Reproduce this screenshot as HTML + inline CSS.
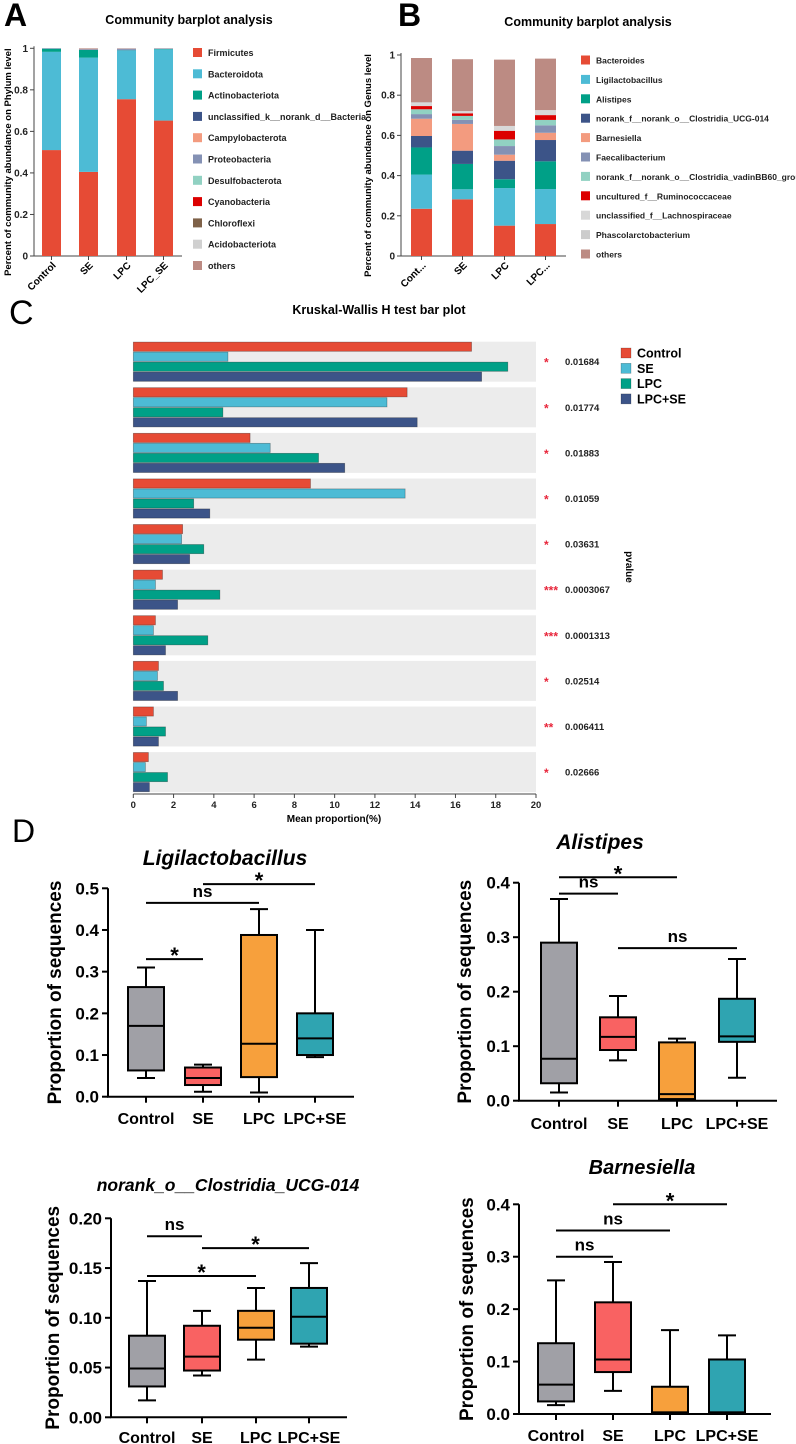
<!DOCTYPE html>
<html><head><meta charset="utf-8">
<style>
html,body{margin:0;padding:0;background:#fff;}
svg{display:block;font-family:"Liberation Sans",Arial,sans-serif;}
</style></head>
<body>
<svg id="fig" width="796" height="1444" viewBox="0 0 796 1444" xmlns="http://www.w3.org/2000/svg">
<text x="4" y="26" font-size="32" font-weight="bold">A</text>
<text x="398" y="26" font-size="32" font-weight="bold">B</text>
<text x="9" y="324" font-size="34">C</text>
<text x="12" y="842" font-size="32">D</text>
</svg>
<script>
// ---------- Panel A data ----------
const aGroups = ["Control","SE","LPC","LPC_SE"];
const aTaxa = ["Firmicutes","Bacteroidota","Actinobacteriota","unclassified_k__norank_d__Bacteria","Campylobacterota","Proteobacteria","Desulfobacterota","Cyanobacteria","Chloroflexi","Acidobacteriota","others"];
const aColors = ["#e64b35","#4dbbd5","#00a087","#3c5488","#f39b7f","#8491b4","#91d1c2","#dc0000","#7e6148","#d0d0d0","#bc8b83"];
const aFirmicutes = [0.51,0.405,0.755,0.652];
const aBacteroidota = [0.473,0.55,0.235,0.343];
const aActino = [0.015,0.037,0.001,0.002];
const aUnclass = [0.001,0.001,0.001,0.001];
const aCampylo = [0.0,0.001,0.0,0.0];
const aProteo = [0.001,0.003,0.006,0.001];
const aOthers = [0.0,0.003,0.002,0.001];
// ---------- Panel B data ----------
const bGroups = ["Cont...","SE","LPC","LPC..."];
const bTaxa = ["Bacteroides","Ligilactobacillus","Alistipes","norank_f__norank_o__Clostridia_UCG-014","Barnesiella","Faecalibacterium","norank_f__norank_o__Clostridia_vadinBB60_group","uncultured_f__Ruminococcaceae","unclassified_f__Lachnospiraceae","Phascolarctobacterium","others"];
const bColors = ["#e64b35","#4dbbd5","#00a087","#3c5488","#f39b7f","#8491b4","#91d1c2","#dc0000","#d8d8d8","#cccccc","#bc8b83"];
const bBacteroides = [0.235,0.282,0.151,0.159];
const bLigi = [0.17,0.05,0.187,0.174];
const bAlistipes = [0.135,0.126,0.044,0.138];
const bUCG014 = [0.057,0.066,0.092,0.106];
const bBarnes = [0.086,0.133,0.03,0.036];
const bFaecali = [0.023,0.02,0.043,0.037];
const bVadin = [0.024,0.02,0.033,0.027];
const bRumino = [0.016,0.013,0.043,0.024];
const bLachno = [0.014,0.011,0.024,0.025];
const bPhasc = [0.005,0.0,0.0,0.0];
const bOthers = [0.22,0.258,0.33,0.256];
// ---------- Panel C data ----------
const cGroups = ["Control","SE","LPC","LPC+SE"];
const cColors = ["#e64b35","#4dbbd5","#00a087","#3c5488"];
const cControl = [16.8,13.6,5.8,8.8,2.45,1.45,1.1,1.25,1.0,0.75];
const cSE = [4.7,12.6,6.8,13.5,2.4,1.1,1.0,1.2,0.65,0.6];
const cLPC = [18.6,4.45,9.2,3.0,3.5,4.3,3.7,1.5,1.6,1.7];
const cLPCSE = [17.3,14.1,10.5,3.8,2.8,2.2,1.6,2.2,1.25,0.8];
const cStars = ["*","*","*","*","*","***","***","*","**","*"];
const cPvalues = ["0.01684","0.01774","0.01883","0.01059","0.03631","0.0003067","0.0001313","0.02514","0.006411","0.02666"];
const cTicks = [0,2,4,6,8,10,12,14,16,18,20];
// ---------- Panel D data ([min,q1,median,q3,max] per group) ----------
const dGroups = ["Control","SE","LPC","LPC+SE"];
const dColors = ["#a0a0a6","#f96262","#f7a03c","#2fa4b1"];
const ligiStats = [[0.045,0.063,0.17,0.263,0.31],[0.012,0.028,0.045,0.07,0.077],[0.01,0.047,0.127,0.388,0.45],[0.095,0.10,0.14,0.20,0.40]];
const alisStats = [[0.015,0.032,0.077,0.29,0.37],[0.074,0.093,0.117,0.153,0.192],[0.003,0.003,0.012,0.107,0.114],[0.042,0.108,0.118,0.187,0.26]];
const ucgStats = [[0.017,0.031,0.049,0.082,0.137],[0.042,0.047,0.061,0.092,0.107],[0.058,0.078,0.09,0.107,0.13],[0.071,0.074,0.101,0.13,0.155]];
const barnStats = [[0.017,0.024,0.056,0.135,0.255],[0.044,0.08,0.104,0.213,0.29],[0.0,0.003,0.003,0.052,0.16],[0.0,0.003,0.003,0.104,0.15]];
const ligiTicks = [0,0.1,0.2,0.3,0.4,0.5];
const alisTicks = [0,0.1,0.2,0.3,0.4];
const ucgTicks = [0,0.05,0.10,0.15,0.20];
const barnTicks = [0,0.1,0.2,0.3,0.4];
// significance: [fromGroup, toGroup, level, label]
const ligiSig = [[0,1,0.33,"*"],[0,2,0.465,"ns"],[1,3,0.51,"*"]];
const alisSig = [[0,1,0.38,"ns"],[0,2,0.41,"*"],[1,3,0.28,"ns"]];
const ucgSig = [[0,1,0.182,"ns"],[1,3,0.17,"*"],[0,2,0.142,"*"]];
const barnSig = [[0,1,0.30,"ns"],[0,2,0.35,"ns"],[1,3,0.40,"*"]];

const NS = "http://www.w3.org/2000/svg";
const svg = document.getElementById("fig");
function mk(tag, attrs, parent){
  const e = document.createElementNS(NS, tag);
  for (const k in attrs) e.setAttribute(k, attrs[k]);
  (parent||svg).appendChild(e);
  return e;
}
function txt(s, attrs, parent){ const e = mk("text", attrs, parent); e.textContent = s; return e; }

// ===== Stacked bar panel =====
function stacked(o){
  const y = v => o.y0 - v*(o.y0-o.y1);
  const g = mk("g",{});
  
  
  const t = txt("Community barplot analysis",{x:o.titleX,y:o.titleY,"font-size":12.5,"font-weight":"bold","text-anchor":"middle"},g);
  
  
  const ax = mk("path",{d:`M${o.ax},${o.y1-2} V${o.y0} H${o.axEnd}`,stroke:"#444",fill:"none","stroke-width":1},g);
  
  
  [0,0.2,0.4,0.6,0.8,1].forEach(v=>{
    const tk = mk("line",{x1:o.ax-4,x2:o.ax,y1:y(v),y2:y(v),stroke:"#444"},g);
    
    
    const tl = txt(v===0||v===1?String(v):v.toFixed(1),{x:o.ax-6,y:y(v)+3.5,"font-size":10,"font-weight":"bold","text-anchor":"end",fill:"#222"},g);
    
    
  });
  const yt = txt(o.ytitle,{x:0,y:0,"font-size":9.5,"font-weight":"bold","text-anchor":"middle",transform:`translate(${o.ytX},${(o.y0+o.y1)/2+10}) rotate(-90)`},g);
  
  
  o.groups.forEach((gn,i)=>{
    let acc = 0;
    o.series.forEach((s,j)=>{
      const v = s[i];
      if (v>0){
        const r = mk("rect",{x:o.barX[i],width:o.barW,y:y(acc+v),height:(y(acc)-y(acc+v)),fill:o.colors[j]},g);
        
        
      }
      acc += v;
    });
    const cx = o.barX[i]+o.barW/2;
    const tk = mk("line",{x1:cx,x2:cx,y1:o.y0,y2:o.y0+4,stroke:"#444"},g);
    
    
    const xl = txt(gn,{x:cx+5,y:o.y0+10,"font-size":10,"font-weight":"bold","text-anchor":"end",transform:`rotate(-45 ${cx+5} ${o.y0+10})`},g);
    
    
  });
  o.taxa.forEach((n,j)=>{
    const yy = o.legY + j*o.legStep;
    const sq = mk("rect",{x:o.legX,y:yy-4.5,width:9,height:9,fill:o.colors[j]},g);
    
    
    const lt = txt(n,{x:o.legX+15,y:yy+3.5,"font-size":o.legFont,"font-weight":"bold",fill:"#222"},g);
    
    
  });
}
stacked({name:"phylum-barplot",groups:aGroups,taxa:aTaxa,colors:aColors,
  series:[aFirmicutes,aBacteroidota,aActino,aUnclass,aCampylo,aProteo,aOthers.map(()=>0),aOthers.map(()=>0),aOthers.map(()=>0),aOthers.map(()=>0),aOthers],
  y0:256,y1:48.3,ax:34,axEnd:182,barX:[42,79,117,154],barW:19,titleX:189,titleY:24,
  ytitle:"Percent of community abundance on Phylum level",ytX:11,legX:193,legY:52.5,legStep:21.3,legFont:9});
stacked({name:"genus-barplot",groups:bGroups,taxa:bTaxa,colors:bColors,
  series:[bBacteroides,bLigi,bAlistipes,bUCG014,bBarnes,bFaecali,bVadin,bRumino,bLachno,bPhasc,bOthers],
  y0:256,y1:55,ax:401,axEnd:566,barX:[411,452,494,535],barW:21,titleX:588,titleY:26,
  ytitle:"Percent of community abundance on Genus level",ytX:371,legX:581,legY:60,legStep:19.4,legFont:8.5});

// ===== Panel C: Kruskal-Wallis =====
(function(){
  const x0=133.3, x20=536, top0=341.7, pitch=45.6, bandH=40, axisY=794;
  const xs = v => x0 + v/20*(x20-x0);
  const g = mk("g",{});
  
  
  const t = txt("Kruskal-Wallis H test bar plot",{x:379,y:314,"font-size":12.5,"font-weight":"bold","text-anchor":"middle"},g);
  
  
  const series=[cControl,cSE,cLPC,cLPCSE];
  cPvalues.forEach((p,r)=>{
    const bt = top0 + r*pitch;
    const band = mk("rect",{x:x0,y:bt,width:x20-x0,height:bandH,fill:"#ececec"},g);
    
    
    series.forEach((s,k)=>{
      const bh = bandH/4;
      const b = mk("rect",{x:x0,y:bt+k*bh+0.4,width:xs(s[r])-x0,height:bh-0.8,fill:cColors[k],stroke:"rgba(0,0,0,0.35)","stroke-width":0.7},g);
      
      
    });
    const st = txt(cStars[r],{x:544,y:bt+bandH/2+5,"font-size":12,"font-weight":"bold",fill:"#e8253a"},g);
    
    
    const pv = txt(p,{x:565,y:bt+bandH/2+3.5,"font-size":9.5,"font-weight":"bold",fill:"#222"},g);
    
    
  });
  const ax = mk("line",{x1:x0,x2:x20,y1:axisY,y2:axisY,stroke:"#444"},g);
  
  
  cTicks.forEach(v=>{
    const tk = mk("line",{x1:xs(v),x2:xs(v),y1:axisY,y2:axisY+4,stroke:"#444"},g);
    
    
    const tl = txt(String(v),{x:xs(v),y:axisY+14,"font-size":9.5,"font-weight":"bold","text-anchor":"middle",fill:"#222"},g);
    
    
  });
  const xt = txt("Mean proportion(%)",{x:334,y:822,"font-size":10,"font-weight":"bold","text-anchor":"middle"},g);
  
  
  const pt = txt("pvalue",{x:0,y:0,"font-size":10,"font-weight":"bold","text-anchor":"middle",transform:"translate(626,567) rotate(90)"},g);
  
  
  cGroups.forEach((n,k)=>{
    const yy = 353 + k*15.3;
    const sq = mk("rect",{x:621,y:yy-5,width:10,height:10,fill:cColors[k],stroke:"rgba(0,0,0,0.3)","stroke-width":0.6},g);
    
    
    const lt = txt(n,{x:637,y:yy+4.5,"font-size":12.5,"font-weight":"bold"},g);
    
    
  });
})();

// ===== Panel D: box plots =====
function boxplot(o){
  const y = v => o.y0 - (v-o.ticks[0])/(o.ticks[o.ticks.length-1]-o.ticks[0])*(o.y0-o.yTop);
  const g = mk("g",{});
  
  
  const t = txt(o.title,{x:o.titleX,y:o.titleY,"font-size":o.titleSize,"font-weight":"bold","font-style":"italic","text-anchor":"middle"},g);
  
  
  const ax = mk("path",{d:`M${o.ax},${o.yTop} V${o.y0} H${o.axEnd}`,stroke:"#000",fill:"none","stroke-width":2},g);
  
  
  o.ticks.forEach(v=>{
    const tk = mk("line",{x1:o.ax-6,x2:o.ax,y1:y(v),y2:y(v),stroke:"#000","stroke-width":2},g);
    
    
    const tl = txt(v.toFixed(o.dec),{x:o.ax-9,y:y(v)+6,"font-size":17,"font-weight":"bold","text-anchor":"end"},g);
    
    
  });
  const yt = txt("Proportion of sequences",{x:0,y:0,"font-size":19,"font-weight":"bold","text-anchor":"middle",transform:`translate(${o.ytX},${(o.y0+o.yTop)/2}) rotate(-90)`},g);
  
  
  const bw = 36;
  o.stats.forEach((s,i)=>{
    const cx = o.cx[i];
    const wk = mk("line",{x1:cx,x2:cx,y1:y(s[0]),y2:y(s[4]),stroke:"#000","stroke-width":2},g);
    
    
    [s[0],s[4]].forEach(v=>{
      const cap = mk("line",{x1:cx-bw/4,x2:cx+bw/4,y1:y(v),y2:y(v),stroke:"#000","stroke-width":2},g);
      
      
    });
    const bx = mk("rect",{x:cx-bw/2,y:y(s[3]),width:bw,height:y(s[1])-y(s[3]),fill:dColors[i],stroke:"#000","stroke-width":2},g);
    
    
    const md = mk("line",{x1:cx-bw/2,x2:cx+bw/2,y1:y(s[2]),y2:y(s[2]),stroke:"#000","stroke-width":2},g);
    
    
    const tk = mk("line",{x1:cx,x2:cx,y1:o.y0,y2:o.y0+6,stroke:"#000","stroke-width":2},g);
    
    
    const xl = txt(dGroups[i],{x:cx,y:o.xlY,"font-size":16,"font-weight":"bold","text-anchor":"middle"},g);
    
    
  });
  o.sig.forEach(sg=>{
    const x1 = o.cx[sg[0]], x2 = o.cx[sg[1]], yy = y(sg[2]);
    const ln = mk("line",{x1:x1,x2:x2,y1:yy,y2:yy,stroke:"#000","stroke-width":2},g);
    
    
    const lab = txt(sg[3],{x:(x1+x2)/2,y:sg[3]==="*"?yy+4:yy-6,"font-size":sg[3]==="*"?22:17,"font-weight":"bold","text-anchor":"middle"},g);
    
    
  });
}
boxplot({name:"ligilactobacillus-boxplot",title:"Ligilactobacillus",titleX:225,titleY:865,titleSize:21,ticks:ligiTicks,dec:1,stats:ligiStats,sig:ligiSig,
  y0:1096.7,yTop:888.3,ax:108,axEnd:354,cx:[146,203,259,315],ytX:61,xlY:1124});
boxplot({name:"alistipes-boxplot",title:"Alistipes",titleX:600,titleY:849,titleSize:21,ticks:alisTicks,dec:1,stats:alisStats,sig:alisSig,
  y0:1100.7,yTop:882.7,ax:519,axEnd:777,cx:[559,618,677,737],ytX:471,xlY:1129});
boxplot({name:"clostridia-ucg014-boxplot",title:"norank_o__Clostridia_UCG-014",titleX:228,titleY:1191,titleSize:17.5,ticks:ucgTicks,dec:2,stats:ucgStats,sig:ucgSig,
  y0:1417.3,yTop:1218.3,ax:111,axEnd:347,cx:[147,202,256,309],ytX:59,xlY:1443});
boxplot({name:"barnesiella-boxplot",title:"Barnesiella",titleX:642,titleY:1174,titleSize:20,ticks:barnTicks,dec:1,stats:barnStats,sig:barnSig,
  y0:1414,yTop:1204.3,ax:519,axEnd:771,cx:[556,613,670,727],ytX:473,xlY:1441});
</script>
</body></html>
